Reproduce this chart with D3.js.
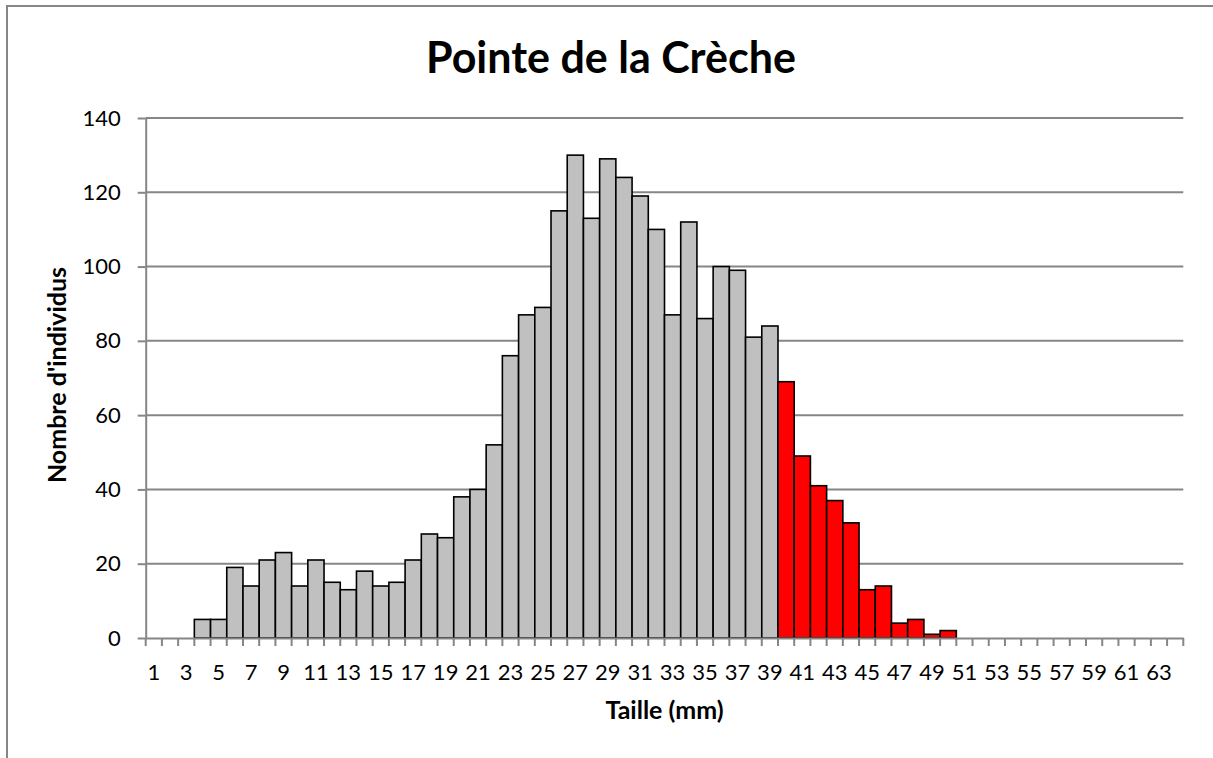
<!DOCTYPE html>
<html lang="fr">

<head>
    <meta charset="UTF-8">
    <script src="https://d3js.org/d3.v7.min.js"></script>
    <style>
        body { margin: 0; background: #fff; }
        svg { font-family: Lato, "Open Sans", sans-serif; }
    </style>
    <title>Pointe de la Crèche</title>
</head>

<body>
    <svg id="chart" width="1213" height="758"></svg>

    <script>

    // tailles 1..64 mm
    const tailles = d3.range(1, 65);

    // nombre d'individus par classe de taille (0 = pas de barre)
    const effectifs = [
        0, 0, 0, 5, 5, 19, 14, 21, 23, 14,
        21, 15, 13, 18, 14, 15, 21, 28, 27, 38,
        40, 52, 76, 87, 89, 115, 130, 113, 129, 124,
        119, 110, 87, 112, 86, 100, 99, 81, 84, 69,
        49, 41, 37, 31, 13, 14, 4, 5, 1, 2,
        0, 0, 0, 0, 0, 0, 0, 0, 0, 0,
        0, 0, 0, 0
    ];

    // a partir de cette taille les barres sont en rouge
    const seuilRouge = 40;

    const yTicks = [0, 20, 40, 60, 80, 100, 120, 140];
    const xLabels = tailles.filter(t => t % 2 === 1);

    const titre = "Pointe de la Crèche";
    const titreX = "Taille (mm)";
    const titreY = "Nombre d'individus";

    const svg = d3.select("#chart");
    const gray = "#868686";

    const plotLeft = 145.7, plotRight = 1183.3, plotTop = 118, plotBottom = 638;

    // cadre du graphique
    svg.append("rect")
        .attr("x", 7).attr("y", 6)
        .attr("width", 1240).attr("height", 800)
        .attr("fill", "#fff")
        .attr("stroke", gray)
        .attr("stroke-width", 2);

    const x = d3.scaleBand()
        .domain(tailles)
        .range([plotLeft, plotRight])
        .padding(0);

    const y = d3.scaleLinear()
        .domain([0, 140])
        .range([plotBottom, plotTop]);

    // quadrillage
    svg.append("g")
        .selectAll("line")
        .data(yTicks.filter(d => d > 0))
        .enter().append("line")
        .attr("x1", plotLeft).attr("x2", plotRight)
        .attr("y1", d => y(d)).attr("y2", d => y(d))
        .attr("stroke", gray)
        .attr("stroke-width", 2);

    // barres
    const data = tailles.map((t, i) => ({ taille: t, n: effectifs[i] }));

    svg.append("g")
        .selectAll("rect")
        .data(data.filter(d => d.n > 0))
        .enter().append("rect")
        .attr("x", d => x(d.taille))
        .attr("y", d => y(d.n))
        .attr("width", x.bandwidth())
        .attr("height", d => y(0) - y(d.n))
        .attr("fill", d => d.taille >= seuilRouge ? "#ff0000" : "#c0c0c0")
        .attr("stroke", "#000")
        .attr("stroke-width", 1.6);

    // axe y
    const yAxis = d3.axisLeft(y)
        .tickValues(yTicks)
        .tickSize(8)
        .tickPadding(17)
        .tickSizeOuter(0);

    const gy = svg.append("g")
        .attr("transform", "translate(" + plotLeft + ",0)")
        .call(yAxis);
    gy.select(".domain").attr("stroke", gray).attr("stroke-width", 2);
    gy.selectAll(".tick line").attr("stroke", gray).attr("stroke-width", 2);
    gy.selectAll(".tick text")
        .attr("font-size", 22)
        .attr("fill", "#000")
        .attr("font-family", "Lato, sans-serif");

    // axe x : libelles au centre des classes
    const xAxis = d3.axisBottom(x)
        .tickValues(xLabels)
        .tickSize(0)
        .tickPadding(26)
        .tickSizeOuter(0);

    const gx = svg.append("g")
        .attr("transform", "translate(0," + plotBottom + ")")
        .call(xAxis);
    gx.select(".domain").attr("stroke", gray).attr("stroke-width", 2);
    gx.selectAll(".tick text")
        .attr("font-size", 22)
        .attr("fill", "#000")
        .attr("font-family", "Lato, sans-serif");

    // graduations x entre les classes
    const bords = tailles.map(t => x(t)).concat([plotRight]);
    gx.append("g")
        .selectAll("line")
        .data(bords)
        .enter().append("line")
        .attr("x1", d => d).attr("x2", d => d)
        .attr("y1", 0).attr("y2", 8)
        .attr("stroke", gray)
        .attr("stroke-width", 2);

    // titres
    svg.append("text")
        .attr("x", 611).attr("y", 73)
        .attr("text-anchor", "middle")
        .attr("font-size", 43)
        .attr("font-weight", "bold")
        .text(titre);

    svg.append("text")
        .attr("x", (plotLeft + plotRight) / 2).attr("y", 719)
        .attr("text-anchor", "middle")
        .attr("font-size", 25)
        .attr("font-weight", "bold")
        .text(titreX);

    svg.append("text")
        .attr("transform", "translate(66,375) rotate(-90)")
        .attr("text-anchor", "middle")
        .attr("font-size", 25)
        .attr("font-weight", "bold")
        .text(titreY);

    </script>
</body>

</html>
